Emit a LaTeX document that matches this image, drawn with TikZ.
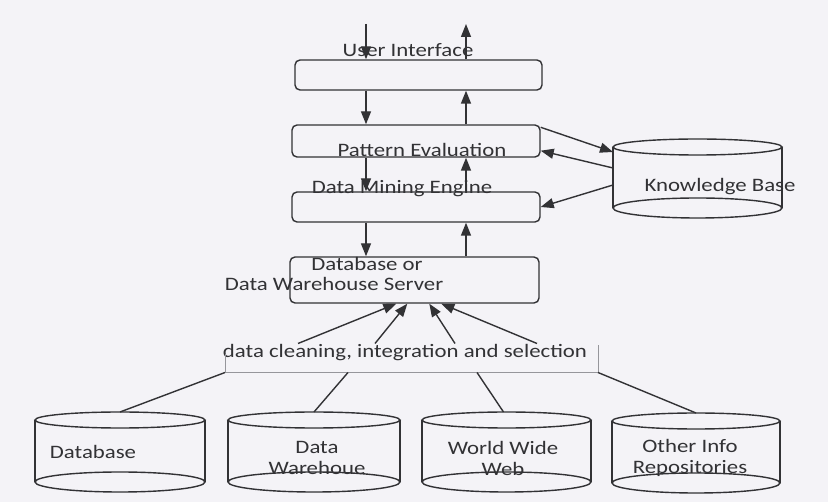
\documentclass[tikz,border=0pt]{standalone}
\usepackage{fontspec}
\setmainfont{Carlito}[FakeStretch=1.2]
\usetikzlibrary{arrows.meta,calc}
\definecolor{bg}{RGB}{244,243,247}
\definecolor{ink}{RGB}{50,50,53}
\definecolor{light}{RGB}{150,150,155}
\tikzset{
  line/.style={draw=ink, line width=1.4pt},
  arr/.style={line, -{Triangle[length=13pt,width=10pt]}},
  box/.style={line, rounded corners=5pt, inner sep=0pt},
  lbl/.style={text=ink, inner sep=0pt, font=\fontsize{19}{21}\selectfont, align=center},
  hold/.style={draw=none, inner sep=0pt, outer sep=0pt}
}
\newcommand\mycyl[5]{% name, cx, top y, bottom y, half width
  \node[hold, minimum width={2*#5 pt}, minimum height={(#4-#3)*1pt}] (#1) at (#2,{(#3+#4)/2}) {};
  \draw[line] (#1.north west) -- (#1.south west) (#1.north east) -- (#1.south east);
  \draw[line] (#1.north) ellipse [x radius=#5, y radius=8];
  \draw[line] (#1.south) ellipse [x radius=#5, y radius=10];
}
\begin{document}
\begin{tikzpicture}[x=1pt,y=-1pt]
\fill[bg] (0,0) rectangle (828,502);
\useasboundingbox (0,0) rectangle (828,502);

% main boxes
\node[box, minimum width=247pt, minimum height=30pt] (ui) at (418.5,75) {};
\node[box, minimum width=248pt, minimum height=32pt] (pe) at (416,141) {};
\node[box, minimum width=248pt, minimum height=30pt] (dme) at (416,207) {};
\node[box, minimum width=249pt, minimum height=46pt] (dbs) at (414.5,280) {};

% labels
\node[lbl] (tui) at (408,50) {User Interface};
\node[lbl] (tpe) at (422,150) {Pattern Evaluation};
\node[lbl] (tdme) at (402,189) {Data Mining Engine};
\node[lbl] (tdbs1) at (367,264) {Database or};
\node[lbl] (tdbs2) at (334,284) {Data Warehouse Server};

% vertical arrows
\coordinate (dnx) at (366,0);
\coordinate (upx) at (466,0);
\coordinate (intop) at (366,24);
\coordinate (outtop) at (466,24);
\draw[arr] (intop) -- (ui.north -| dnx);
\draw[arr] (ui.north -| upx) -- (outtop);
\draw[arr] (ui.south -| dnx) -- (pe.north -| dnx);
\draw[arr] (pe.north -| upx) -- (ui.south -| upx);
\draw[arr] (pe.south -| dnx) -- (dme.north -| dnx);
\draw[arr] (dme.north -| upx) -- (pe.south -| upx);
\draw[arr] (dme.south -| dnx) -- (dbs.north -| dnx);
\draw[arr] (dbs.north -| upx) -- (dme.south -| upx);

% knowledge base
\mycyl{kb}{697.5}{147}{208}{84.5}
\node[lbl] (tkb) at (720,187) {Knowledge Base};
\draw[arr] ($(pe.north east)+(0,3)$) -- ($(kb.north west)+(0,5)$);
\draw[arr] ($(kb.north west)+(0,21)$) -- ($(pe.south east)+(0,-7)$);
\draw[arr] ($(kb.north west)+(0,38)$) -- (dme.east);

% cleaning box
\node[hold, minimum width=373pt, minimum height=27pt] (cbox) at (411.5,359) {};
\node[lbl] (tclean) at (405,353) {data cleaning, integration and selection};
\draw[draw=light, line width=0.9pt] ($(cbox.north west)+(0,9)$) -- (cbox.south west) -- (cbox.south east) -- (cbox.north east);

\draw[arr] ($(cbox.north west)+(73,-2)$) -- ($(dbs.south west)+(107,0)$);
\draw[arr] ($(cbox.north west)+(150,-2)$) -- ($(dbs.south west)+(118,0)$);
\draw[arr] ($(cbox.north west)+(230,-2)$) -- ($(dbs.south west)+(140,0)$);
\draw[arr] ($(cbox.north west)+(312,-2)$) -- ($(dbs.south west)+(152,0)$);

% source cylinders
\mycyl{db}{120}{420}{482}{85}
\mycyl{dw}{314}{420}{482}{86}
\mycyl{www}{506.5}{420}{482}{84.5}
\mycyl{oth}{696}{421}{483}{84}
\node[lbl] (tdb) at (93,452) {Database};
\node[lbl] (tdw) at (317,458) {Data\\Warehoue};
\node[lbl] (twww) at (503,458) {World Wide\\Web};
\node[lbl] (toth) at (690,458) {Other Info\\Repositories};

\draw[line] (cbox.south west) -- ($(db.north)+(0,-8)$);
\draw[line] ($(cbox.south west)+(123,0)$) -- ($(dw.north)+(0,-8)$);
\draw[line] ($(cbox.south west)+(252,0)$) -- ($(www.north)+(-3,-8)$);
\draw[line] (cbox.south east) -- ($(oth.north)+(0,-8)$);
\end{tikzpicture}
\end{document}
